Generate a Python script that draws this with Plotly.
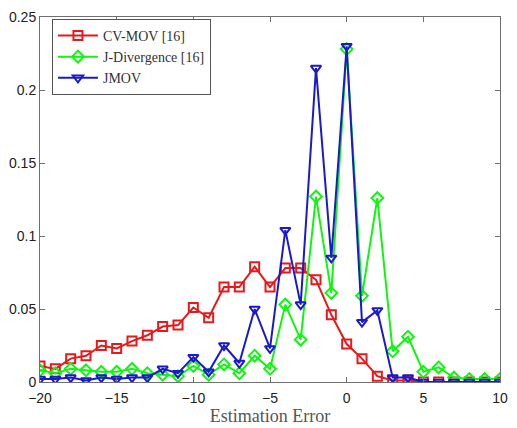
import plotly.graph_objects as go

x_vals = list(range(-20, 11))

cv_mov = [0.011, 0.009, 0.016, 0.018, 0.025, 0.023, 0.028, 0.032, 0.038, 0.039,
          0.051, 0.044, 0.065, 0.065, 0.079, 0.065, 0.078, 0.078, 0.070, 0.046,
          0.026, 0.016, 0.004, 0.001, 0.001, 0.0, 0.0, 0.0, 0.0, 0.0, 0.0]

j_div = [0.008, 0.006, 0.009, 0.008, 0.007, 0.007, 0.009, 0.006, 0.005, 0.004,
         0.011, 0.005, 0.012, 0.006, 0.018, 0.009, 0.053, 0.029, 0.127, 0.061,
         0.228, 0.059, 0.126, 0.021, 0.031, 0.007, 0.010, 0.003, 0.002, 0.002, 0.002]

jmov = [0.002, 0.002, 0.003, 0.001, 0.003, 0.002, 0.003, 0.003, 0.009, 0.006,
        0.017, 0.007, 0.025, 0.013, 0.050, 0.023, 0.104, 0.053, 0.215, 0.085,
        0.230, 0.041, 0.049, 0.003, 0.003, 0.0, 0.0, 0.0, 0.0, 0.0, 0.0]

series = [
    ("CV-MOV [16]", cv_mov, "#e8191c", "square-open"),
    ("J-Divergence [16]", j_div, "#11f511", "diamond-open"),
    ("JMOV", jmov, "#1a1acc", "triangle-down-open"),
]

fig = go.Figure()
for name, vals, color, sym in series:
    fig.add_trace(go.Scatter(
        x=x_vals, y=vals, mode="lines+markers", name=name,
        line=dict(color=color, width=2),
        marker=dict(symbol=sym, size=9, color=color, line=dict(width=2, color=color)),
    ))

SERIF = "Times New Roman"
axis_common = dict(
    showgrid=False, zeroline=False, showline=True, linecolor="#707070", linewidth=1,
    mirror="ticks", ticks="inside", ticklen=5, tickcolor="#707070",
    tickfont=dict(family="Arial", size=14, color="#222"),
)

fig.update_layout(
    width=517, height=428,
    margin=dict(l=40, r=12, t=9, b=43),
    paper_bgcolor="white", plot_bgcolor="white",
    showlegend=True,
    legend=dict(
        x=0.026, y=0.995, xanchor="left", yanchor="top",
        bgcolor="white", bordercolor="#555", borderwidth=1,
        font=dict(family=SERIF, size=14, color="#333"),
        tracegroupgap=0, itemwidth=40,
    ),
    xaxis=dict(range=[-20, 10], tickvals=[-20, -15, -10, -5, 0, 5, 10],
               ticklabelstandoff=3,
               title=dict(text="Estimation Error", standoff=1,
                          font=dict(family=SERIF, size=18, color="#555")),
               **axis_common),
    yaxis=dict(range=[0, 0.25], tickvals=[0, 0.05, 0.1, 0.15, 0.2, 0.25],
               ticktext=["0", "0.05", "0.1", "0.15", "0.2", "0.25"],
               **axis_common),
)

fig.write_html("out.html")
